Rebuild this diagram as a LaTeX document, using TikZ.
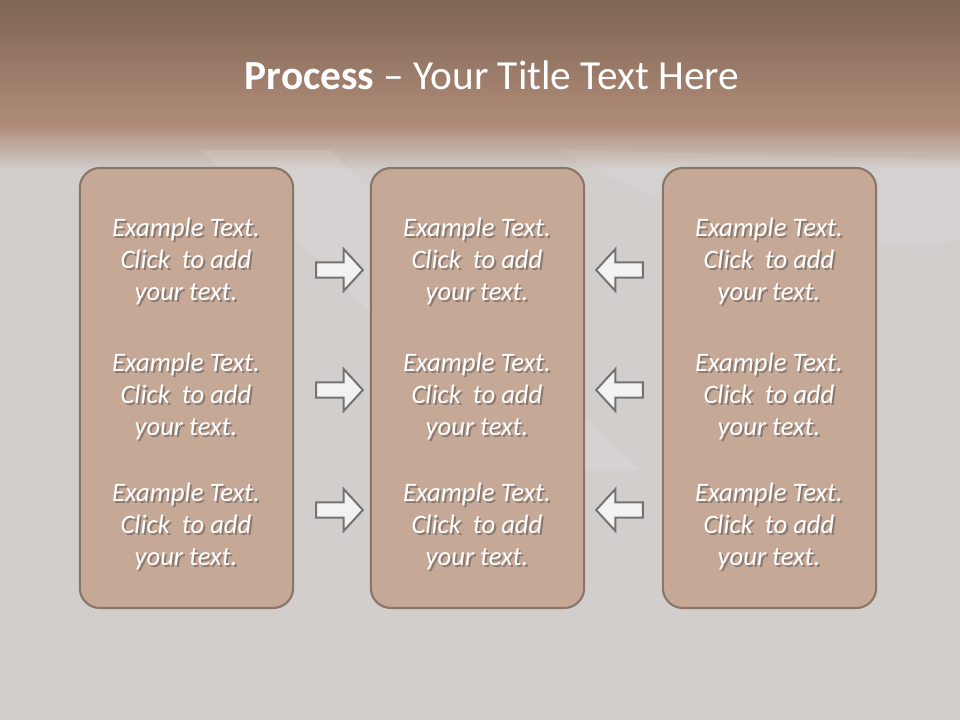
\documentclass[tikz,border=0pt]{standalone}
\usepackage{fontspec}
\setmainfont{Carlito}
\usepackage{xcolor}
\definecolor{procband}{HTML}{7E6555}
\definecolor{procbandlow}{HTML}{B08C78}
\definecolor{procbg}{HTML}{D1CECC}
\definecolor{procfill}{HTML}{C6A897}
\definecolor{procedge}{HTML}{8B766A}
\definecolor{procarrowfill}{HTML}{F2F2F2}
\usetikzlibrary{positioning,shapes.arrows,calc}
\tikzset{
  procbox/.style={draw=procedge,line width=1.6pt,rounded corners=15pt,fill=procfill,minimum width=160pt,minimum height=330pt,inner sep=0pt},
  proctext/.style={text=white,font=\itshape\fontsize{20}{24}\selectfont,align=center,inner sep=0pt},
  procshade/.style={proctext,text=black!75,opacity=0.45},
  procarrow/.style={single arrow,draw=black!55,line width=1.5pt,fill=procarrowfill,inner sep=5pt,minimum height=35pt,single arrow head extend=10pt,single arrow tip angle=95},
  proctitle/.style={text=white,font=\fontsize{31}{37}\selectfont,inner sep=0pt},
}
\begin{document}
\begin{tikzpicture}[x=0.75pt,y=-0.75pt]
\useasboundingbox (0,0) rectangle (960,720);
% backdrop
\fill[procbg] (0,0) rectangle (960,720);
\shade[top color=procband,bottom color=procbandlow] (0,0) rectangle (960,125);
\shade[top color=procbandlow,bottom color=procbg] (0,125) rectangle (960,170);
\fill[white,opacity=0.10] (200,150) .. controls (330,260) and (420,380) .. (560,470) -- (640,470) .. controls (520,360) and (430,250) .. (330,150) -- cycle;
\fill[white,opacity=0.08] (560,150) .. controls (680,220) and (820,260) .. (960,240) -- (960,160) -- cycle;
\node[proctitle] (title) at (492,75) {\textbf{Process} -- Your Title Text Here};
% the three columns
\node[procbox] (boxL) at (186.5,388) {};
\node[procbox] (boxM) at (477.5,388) {};
\node[procbox] (boxR) at (769.5,388) {};
\foreach \col/\cx in {L/186,M/477,R/769}
  \foreach \row/\cy in {1/261,2/396,3/526} {
    \node[procshade] at (\cx+2,\cy+2) {Example Text.\\Click\ \ to add\\your text.};
    \node[proctext] (t\col\row) at (\cx,\cy) {Example Text.\\Click\ \ to add\\your text.};
  }
% arrows into the middle
\foreach \row/\cy in {1/270,2/390,3/510} {
  \node[procarrow] (inL\row) at (336,\cy) {};
  \node[procarrow,shape border rotate=180] (inR\row) at (623,\cy) {};
}
\end{tikzpicture}
\end{document}
